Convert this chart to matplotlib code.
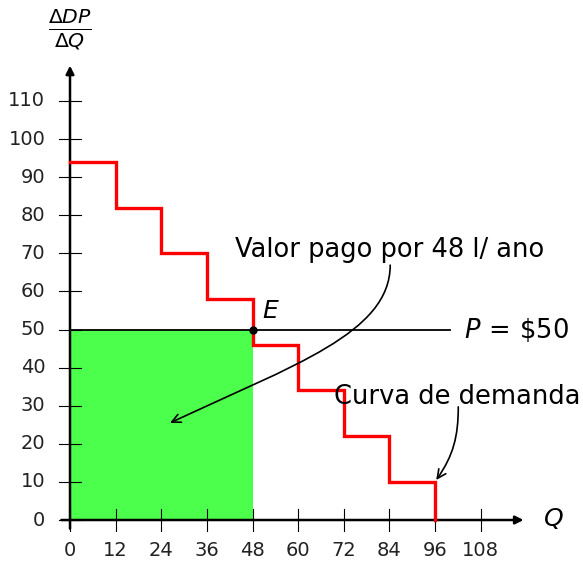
import numpy as np
import matplotlib.pyplot as plt
from matplotlib.path import Path
from matplotlib.patches import FancyArrowPatch

plt.rcParams['mathtext.fontset'] = 'dejavusans'

# degraus da curva de demanda
q_steps = [0, 12, 24, 36, 48, 60, 72, 84, 96]
p_steps = [94, 82, 70, 58, 46, 34, 22, 10]
x_ticks = [0, 12, 24, 36, 48, 60, 72, 84, 96, 108]
y_ticks = [0, 10, 20, 30, 40, 50, 60, 70, 80, 90, 100, 110]
preco = 50
q_eq = 48


def seta_curva(ax, ini, fim, ang_out, ang_in, l_out=0.39, l_in=0.39):
    # curva tipo tikz "to[out=..., in=...]"
    d = np.hypot(fim[0] - ini[0], fim[1] - ini[1])
    c1 = (ini[0] + d * l_out * np.cos(np.radians(ang_out)), ini[1] + d * l_out * np.sin(np.radians(ang_out)))
    c2 = (fim[0] + d * l_in * np.cos(np.radians(ang_in)), fim[1] + d * l_in * np.sin(np.radians(ang_in)))
    path = Path([ini, c1, c2, fim], [Path.MOVETO, Path.CURVE4, Path.CURVE4, Path.CURVE4])
    arr = FancyArrowPatch(path=path, arrowstyle='->,head_length=0.45,head_width=0.22',
                          lw=1.2, color='black', mutation_scale=14, zorder=7)
    ax.add_patch(arr)


fig = plt.figure(figsize=(5.83, 5.61), dpi=100)
ax = fig.add_axes([0, 0, 1, 1])
ax.set_xlim(-18.41, 134.9)
ax.set_ylim(-10.76, 136.5)
ax.axis('off')

# area paga
ax.fill_between([0, q_eq], 0, preco, color='#4dff4d', lw=0, zorder=1)

# eixos com setas
ax.annotate('', xy=(120, 0), xytext=(-3, 0),
            arrowprops=dict(arrowstyle='-|>', lw=1.8, color='black', mutation_scale=12))
ax.annotate('', xy=(0, 120), xytext=(0, -3),
            arrowprops=dict(arrowstyle='-|>', lw=1.8, color='black', mutation_scale=12))

for t in x_ticks:
    ax.plot([t, t], [-2.8, 2.8], color='black', lw=0.8, zorder=3)
    ax.text(t, -8, str(t), ha='center', va='center', fontsize=14, color='#222222')
for t in y_ticks:
    ax.plot([-2.8, 2.8], [t, t], color='black', lw=0.8, zorder=3)
    ax.text(-6.5, t, str(t), ha='right', va='center', fontsize=14, color='#222222')

ax.text(127, 0.5, '$Q$', ha='center', va='center', fontsize=18)
ax.text(0, 128.8, r'$\frac{\Delta DP}{\Delta Q}$', ha='center', va='center', fontsize=21)

# linha de preco
ax.plot([0, 100], [preco, preco], color='black', lw=1.3, zorder=4)
ax.text(103.5, preco, r'$P\,=\,\$50$', ha='left', va='center', fontsize=18.5)

# curva de demanda em degraus
xs = [q_steps[0]]
ys = [p_steps[0]]
for i, p in enumerate(p_steps):
    xs += [q_steps[i], q_steps[i + 1]]
    ys += [p, p]
xs.append(q_steps[-1])
ys.append(0)
ax.plot(xs, ys, color='red', lw=2.4, solid_joinstyle='miter', zorder=5)

ax.plot(q_eq, preco, 'o', color='black', ms=5, zorder=6)
ax.text(50.5, 54.9, '$E$', ha='left', va='center', fontsize=18)

ax.text(84, 70.9, 'Valor pago por 48 l/ ano', ha='center', va='center', fontsize=18.5, zorder=8)
ax.text(101.9, 32.3, 'Curva de demanda', ha='center', va='center', fontsize=18.5, zorder=8)
seta_curva(ax, (84.2, 66.9), (26.3, 25.5), -90, 25, l_out=0.25, l_in=0.5)
seta_curva(ax, (102.1, 29.7), (96.3, 10.5), -90, 55)

fig.savefig('out.png', dpi=100)
